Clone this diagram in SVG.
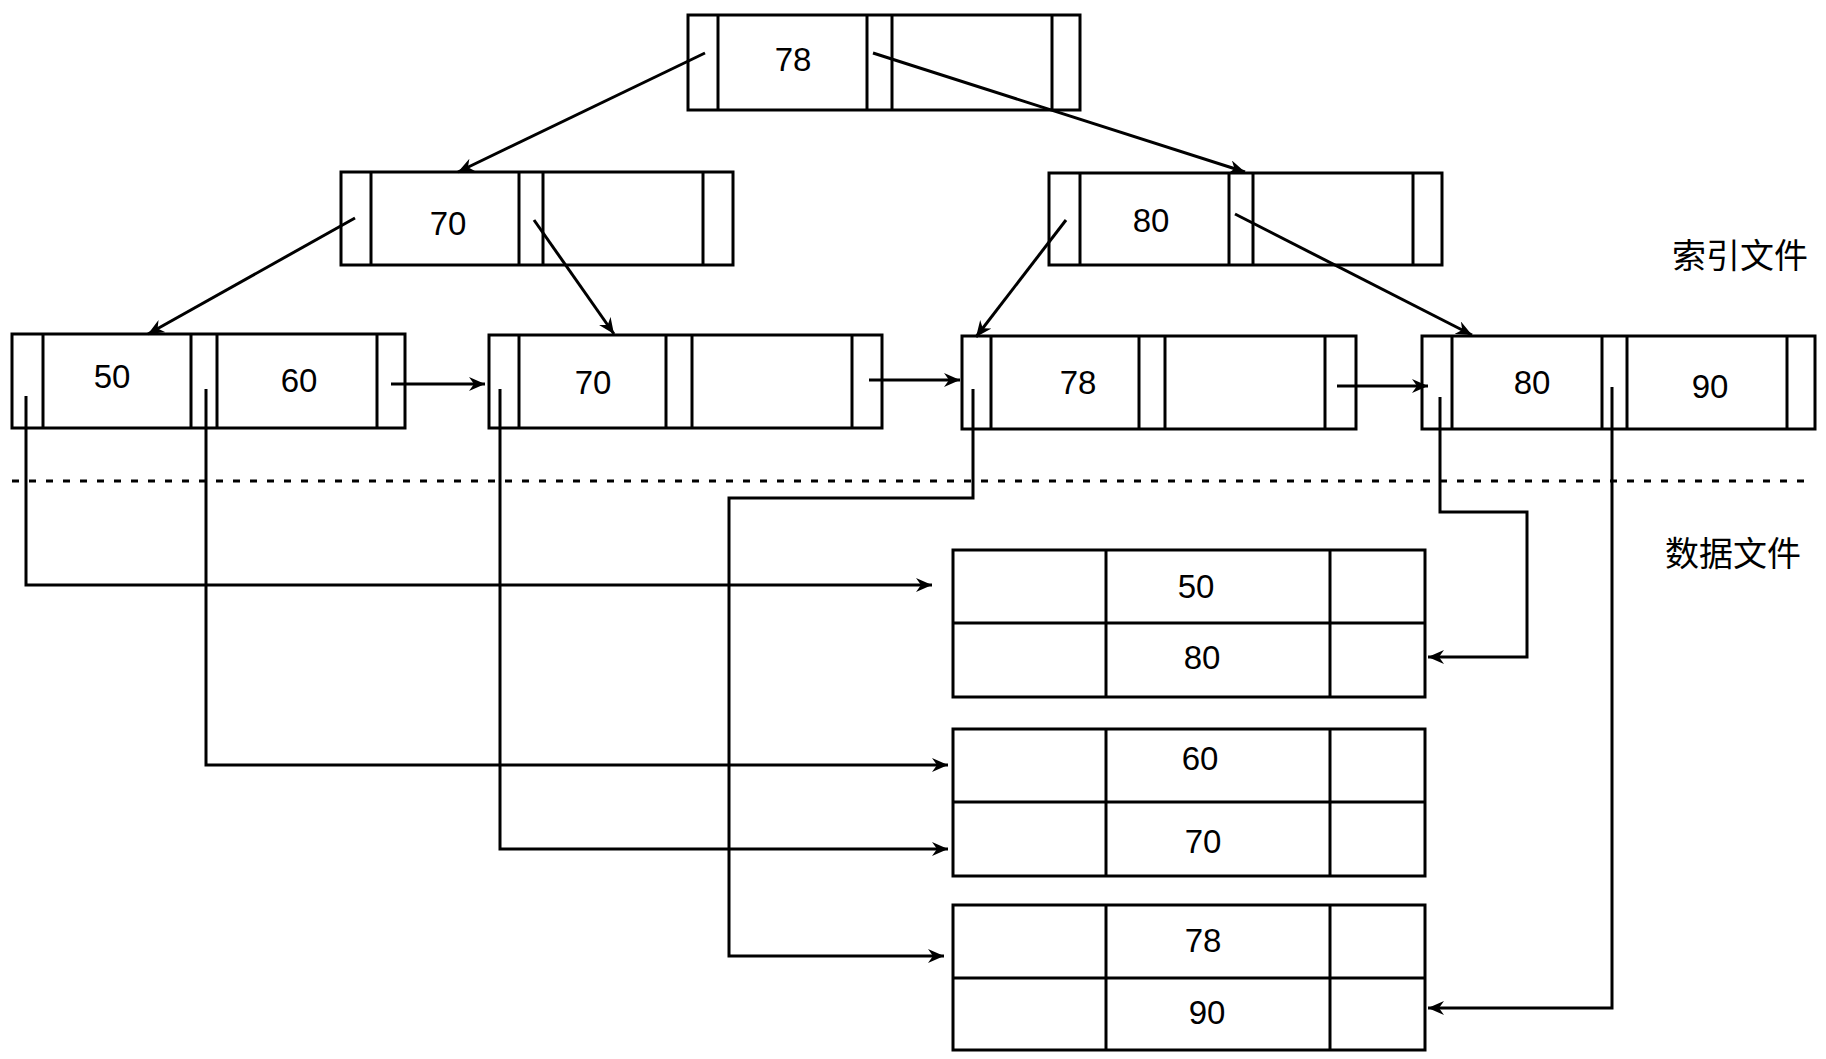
<svg xmlns="http://www.w3.org/2000/svg" width="1826" height="1059" viewBox="0 0 1826 1059">
<style>
.box{fill:none;stroke:#000;stroke-width:3}
.div{stroke:#000;stroke-width:3}
.num{font-family:"Liberation Sans",Arial,sans-serif;font-size:33px;text-anchor:middle;fill:#000}
.cjk{font-family:"Noto Sans CJK SC","Noto Sans",sans-serif;font-size:34px;fill:#000}
.con{fill:none;stroke:#000;stroke-width:3}
.arr{marker-end:url(#ah)}
</style>
<defs>
<marker id="ah" markerUnits="userSpaceOnUse" markerWidth="18" markerHeight="14" refX="16" refY="7" orient="auto">
<path d="M0,0 L16,7 L0,14 L5,7 Z" fill="#000"/>
</marker>
</defs>
<rect width="1826" height="1059" fill="#fff"/>

<g id="root">
<rect class="box" x="688" y="15" width="392" height="95"/>
<line class="div" x1="718" y1="15" x2="718" y2="110"/>
<line class="div" x1="867" y1="15" x2="867" y2="110"/>
<line class="div" x1="892" y1="15" x2="892" y2="110"/>
<line class="div" x1="1052" y1="15" x2="1052" y2="110"/>
<text class="num" x="793" y="71">78</text>
</g>

<g id="l2-70">
<rect class="box" x="341" y="172" width="392" height="93"/>
<line class="div" x1="371" y1="172" x2="371" y2="265"/>
<line class="div" x1="519" y1="172" x2="519" y2="265"/>
<line class="div" x1="543" y1="172" x2="543" y2="265"/>
<line class="div" x1="703" y1="172" x2="703" y2="265"/>
<text class="num" x="448" y="235">70</text>
</g>

<g id="l2-80">
<rect class="box" x="1049" y="173" width="393" height="92"/>
<line class="div" x1="1080" y1="173" x2="1080" y2="265"/>
<line class="div" x1="1229" y1="173" x2="1229" y2="265"/>
<line class="div" x1="1253" y1="173" x2="1253" y2="265"/>
<line class="div" x1="1413" y1="173" x2="1413" y2="265"/>
<text class="num" x="1151" y="232">80</text>
</g>

<g id="leaf-50-60">
<rect class="box" x="12" y="334" width="393" height="94"/>
<line class="div" x1="43" y1="334" x2="43" y2="428"/>
<line class="div" x1="191" y1="334" x2="191" y2="428"/>
<line class="div" x1="217" y1="334" x2="217" y2="428"/>
<line class="div" x1="377" y1="334" x2="377" y2="428"/>
<text class="num" x="112" y="388">50</text>
<text class="num" x="299" y="392">60</text>
</g>

<g id="leaf-70">
<rect class="box" x="489" y="335" width="393" height="93"/>
<line class="div" x1="519" y1="335" x2="519" y2="428"/>
<line class="div" x1="666" y1="335" x2="666" y2="428"/>
<line class="div" x1="692" y1="335" x2="692" y2="428"/>
<line class="div" x1="852" y1="335" x2="852" y2="428"/>
<text class="num" x="593" y="394">70</text>
</g>

<g id="leaf-78">
<rect class="box" x="962" y="336" width="394" height="93"/>
<line class="div" x1="991" y1="336" x2="991" y2="429"/>
<line class="div" x1="1139" y1="336" x2="1139" y2="429"/>
<line class="div" x1="1165" y1="336" x2="1165" y2="429"/>
<line class="div" x1="1325" y1="336" x2="1325" y2="429"/>
<text class="num" x="1078" y="394">78</text>
</g>

<g id="leaf-80-90">
<rect class="box" x="1422" y="336" width="393" height="93"/>
<line class="div" x1="1452" y1="336" x2="1452" y2="429"/>
<line class="div" x1="1602" y1="336" x2="1602" y2="429"/>
<line class="div" x1="1627" y1="336" x2="1627" y2="429"/>
<line class="div" x1="1787" y1="336" x2="1787" y2="429"/>
<text class="num" x="1532" y="394">80</text>
<text class="num" x="1710" y="398">90</text>
</g>

<g id="data-1">
<rect class="box" x="953" y="550" width="472" height="147"/>
<line class="div" x1="953" y1="623" x2="1425" y2="623"/>
<line class="div" x1="1106" y1="550" x2="1106" y2="697"/>
<line class="div" x1="1330" y1="550" x2="1330" y2="697"/>
<text class="num" x="1196" y="598">50</text>
<text class="num" x="1202" y="669">80</text>
</g>

<g id="data-2">
<rect class="box" x="953" y="729" width="472" height="147"/>
<line class="div" x1="953" y1="802" x2="1425" y2="802"/>
<line class="div" x1="1106" y1="729" x2="1106" y2="876"/>
<line class="div" x1="1330" y1="729" x2="1330" y2="876"/>
<text class="num" x="1200" y="770">60</text>
<text class="num" x="1203" y="853">70</text>
</g>

<g id="data-3">
<rect class="box" x="953" y="905" width="472" height="145"/>
<line class="div" x1="953" y1="978" x2="1425" y2="978"/>
<line class="div" x1="1106" y1="905" x2="1106" y2="1050"/>
<line class="div" x1="1330" y1="905" x2="1330" y2="1050"/>
<text class="num" x="1203" y="952">78</text>
<text class="num" x="1207" y="1024">90</text>
</g>

<g id="labels">
<text class="cjk" x="1672" y="268">索引文件</text>
<text class="cjk" x="1665" y="566">数据文件</text>
<line x1="12" y1="481" x2="1813" y2="481" stroke="#000" stroke-width="3" stroke-dasharray="7 10"/>
</g>

<g id="connectors">
<line class="con arr" x1="705" y1="53" x2="458" y2="172"/>
<line class="con arr" x1="873" y1="53" x2="1245" y2="172"/>
<line class="con arr" x1="355" y1="218" x2="148" y2="334"/>
<line class="con arr" x1="534" y1="220" x2="614" y2="334"/>
<line class="con arr" x1="1066" y1="220" x2="976" y2="337"/>
<line class="con arr" x1="1235" y1="214" x2="1472" y2="335"/>
<line class="con arr" x1="391" y1="384" x2="485" y2="384"/>
<line class="con arr" x1="869" y1="380" x2="960" y2="380"/>
<line class="con arr" x1="1337" y1="386" x2="1428" y2="386"/>
<polyline class="con arr" points="26,396 26,585 932,585"/>
<polyline class="con arr" points="206,389 206,765 948,765"/>
<polyline class="con arr" points="500,389 500,849 948,849"/>
<polyline class="con arr" points="973,389 973,498 729,498 729,956 944,956"/>
<polyline class="con arr" points="1440,397 1440,512 1527,512 1527,657 1428,657"/>
<polyline class="con arr" points="1612,387 1612,1008 1428,1008"/>
</g>
</svg>
